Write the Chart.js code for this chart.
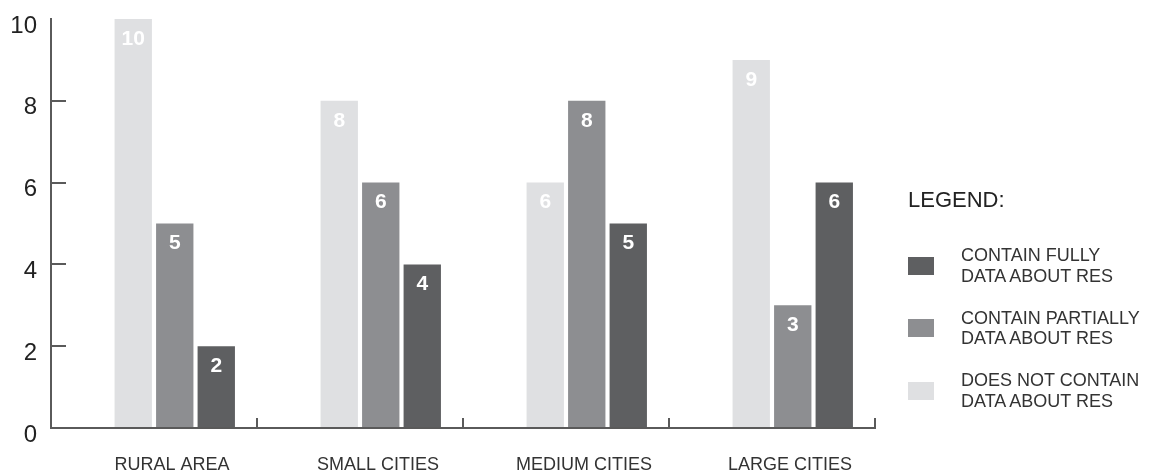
<!DOCTYPE html>
<html>
<head>
<meta charset="utf-8">
<script src="https://cdn.jsdelivr.net/npm/chart.js@4.4.1/dist/chart.umd.min.js"></script>
<style>
  body { margin: 0; background: #fff; }
  #wrap { position: relative; width: 1150px; height: 470px; }
  #legend { position: absolute; left: 908px; top: 189px; font-family: "Liberation Sans", Arial, sans-serif; color: #333; }
  #legend .title { font-size: 22px; line-height: 22px; color: #222; margin-bottom: 34px; }
  #legend .item { display: flex; align-items: center; margin-bottom: 21.5px; }
  #legend .box { width: 26px; height: 18px; margin-right: 27px; }
  #legend .txt { font-size: 18px; line-height: 20.5px; }
</style>
</head>
<body>
<div id="wrap">
  <canvas id="chart" width="1150" height="470"></canvas>
  <div id="legend"></div>
</div>
<script>
var categories = ["RURAL AREA", "SMALL CITIES", "MEDIUM CITIES", "LARGE CITIES"];
var notContain = [10, 8, 6, 9];
var partially = [5, 6, 8, 3];
var fully = [2, 4, 5, 6];
var yTicks = [0, 2, 4, 6, 8, 10];

var fontFamily = '"Liberation Sans", Arial, sans-serif';
var axisColor = "#5a5a5a";

// bars sit right of the category centre in the original, so an empty first slot keeps them there
var chartData = {
    labels: categories,
    datasets: [
        { label: "", data: [null, null, null, null], backgroundColor: "rgba(0,0,0,0)" },
        { label: ["DOES NOT CONTAIN", "DATA ABOUT RES"], data: notContain, backgroundColor: "#dfe0e2" },
        { label: ["CONTAIN PARTIALLY", "DATA ABOUT RES"], data: partially, backgroundColor: "#8d8e91" },
        { label: ["CONTAIN FULLY", "DATA ABOUT RES"], data: fully, backgroundColor: "#5e5f61" }
    ]
};

var barValueLabels = {
    id: "barValueLabels",
    afterDatasetsDraw: function(chart) {
        var ctx = chart.ctx;
        ctx.save();
        ctx.font = "bold 21px " + fontFamily;
        ctx.fillStyle = "#fff";
        ctx.textAlign = "center";
        ctx.textBaseline = "middle";
        chart.data.datasets.forEach(function(ds, i) {
            if (!ds.label) return;
            chart.getDatasetMeta(i).data.forEach(function(bar, j) {
                ctx.fillText(ds.data[j], bar.x, bar.y + 20);
            });
        });
        ctx.restore();
    }
};

new Chart(document.getElementById("chart").getContext("2d"), {
    type: "bar",
    data: chartData,
    plugins: [barValueLabels],
    options: {
        responsive: false,
        animation: false,
        layout: { padding: { left: 0, top: 19, right: 275, bottom: 0 } },
        datasets: { bar: { categoryPercentage: 0.806, barPercentage: 0.9, borderWidth: 0 } },
        plugins: { legend: { display: false }, tooltip: { enabled: false } },
        scales: {
            x: {
                ticks: { padding: 36, labelOffset: 18, maxRotation: 0, autoSkip: false, color: "#333", font: { family: fontFamily, size: 18 } },
                grid: { offset: true, drawOnChartArea: false, tickLength: -10, lineWidth: 2, color: axisColor },
                border: { color: axisColor, width: 2 },
                afterFit: function(s) { s.height = 42; s.paddingLeft = 0; s.paddingRight = 0; }
            },
            y: {
                min: 0,
                max: 10,
                afterBuildTicks: function(s) { s.ticks = yTicks.map(function(v) { return { value: v }; }); },
                ticks: { padding: 29, labelOffset: 7, color: "#222", font: { family: fontFamily, size: 24 } },
                grid: {
                    drawOnChartArea: false, tickLength: -15, lineWidth: 2,
                    color: function(c) { return c.tick && c.tick.value === 10 ? "rgba(0,0,0,0)" : axisColor; }
                },
                border: { color: axisColor, width: 2 },
                // ticks point inwards, so the label padding must not push the plot down
                afterFit: function(s) { s.width = 51; s.paddingTop = 0; s.paddingBottom = 0; }
            }
        }
    }
});

// html legend, darkest first like the original
var legend = document.getElementById("legend");
var html = '<div class="title">LEGEND:</div>';
chartData.datasets.slice().reverse().forEach(function(ds) {
    if (!ds.label) return;
    html += '<div class="item"><div class="box" style="background:' + ds.backgroundColor + '"></div>' +
        '<div class="txt">' + ds.label.join("<br>") + '</div></div>';
});
legend.innerHTML = html;
</script>
</body>
</html>
